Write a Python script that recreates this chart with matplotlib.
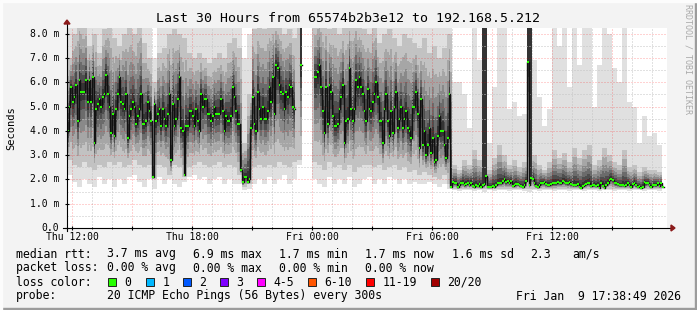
import numpy as np
import matplotlib.pyplot as plt
from matplotlib.patches import Rectangle, Polygon

nan = np.nan
plt.rcParams['font.family'] = 'DejaVu Sans Mono'

title = "Last 30 Hours from 65574b2b3e12 to 192.168.5.212"
start_hour = 11.75          # Thu 11:45, hours since Thu 00:00
step_hours = 5 / 60         # one sample every 300 s

# median rtt per 5-minute sample (ms)
median_ms = [
    4.0, 5.0, 5.8, 5.2, 5.4, 5.9, 4.4, 6.1, 5.6, 5.6,
    5.6, 6.1, 5.2, 6.1, 5.2, 6.2, 3.5, 4.9, 5.1, 5.3,
    5.0, 5.4, 5.5, 6.3, 5.5, 5.0, 3.9, 4.7, 3.8, 4.9,
    5.5, 6.2, 5.2, 5.1, 4.9, 5.5, 3.7, 4.6, 4.9, 5.2,
    5.0, 4.3, 4.6, 4.9, 5.5, 4.3, 4.3, 4.4, 5.2, 4.8,
    4.4, 2.1, 5.1, 4.4, 4.7, 4.9, 4.2, 4.9, 4.5, 4.2,
    4.7, 5.5, 2.8, 5.1, 4.2, 4.5, 5.3, 6.2, 4.1, 4.0,
    2.2, 4.2, 4.2, 4.8, 4.8, 4.6, 4.2, 4.9, 4.4, 4.0,
    5.5, 5.0, 5.3, 5.3, 4.7, 4.7, 4.4, 4.6, 5.0, 4.7,
    4.7, 4.7, 5.3, 4.8, 4.0, 4.6, 4.4, 4.4, 4.6, 5.8,
    5.4, 4.8, 4.3, 4.3, 2.4, 1.9, 2.1, 2.1, 1.9, 2.0,
    4.1, 5.4, 4.3, 4.0, 5.6, 4.9, 4.5, 5.0, 4.5, 4.5,
    4.8, 5.8, 5.2, 6.2, 4.7, 6.7, 6.6, 5.9, 5.6, 5.5,
    4.9, 5.6, 5.4, 5.9, 5.8, 5.0, 4.9, nan, nan, nan,
    6.7, nan, nan, nan, nan, nan, nan, nan, 6.2, 6.2,
    6.4, 6.7, 5.8, 4.8, 3.9, 5.8, 4.3, 5.9, 5.6, 4.6,
    4.2, 4.2, 4.3, 4.9, 5.4, 5.9, 3.5, 4.4, 4.5, 6.6,
    4.9, 4.4, 4.9, 6.1, 5.8, 6.2, 5.8, 5.5, 4.8, 4.4,
    5.7, 4.9, 4.8, 5.2, 5.5, 6.0, 5.4, 4.4, 4.4, 3.5,
    4.9, 5.5, 4.4, 3.8, 4.8, 3.9, 5.0, 5.6, 4.1, 4.5,
    5.0, 4.1, 4.5, 4.8, 4.1, 4.0, 3.7, 5.0, 5.0, 5.6,
    4.7, 3.3, 5.3, 3.4, 4.0, 3.0, 3.4, 4.1, 3.1, 3.7,
    2.7, 2.8, 3.8, 4.6, 4.0, 4.0, 3.4, 2.9, 3.7, 5.5,
    1.70, 1.89, 1.84, 1.86, 1.70, 1.75, 1.86, 1.86, 1.75, 1.80,
    1.87, 1.76, 1.87, 1.73, 1.70, 1.76, 1.73, 1.80, 1.70, 1.76,
    1.80, 2.14, 1.69, 1.67, 1.70, 1.73, 1.70, 1.76, 1.84, 1.87,
    1.87, 1.93, 2.03, 1.89, 1.93, 1.87, 1.93, 1.73, 1.78, 1.80,
    1.82, 1.76, 1.73, 1.70, 1.76, 1.93, 6.85, 1.78, 2.05, 2.03,
    1.84, 1.73, 1.69, 1.76, 1.84, 1.87, 1.89, 1.80, 1.76, 1.76,
    1.80, 1.84, 1.84, 1.84, 1.89, 1.87, 1.84, 1.93, 1.91, 1.85,
    1.84, 1.89, 1.80, 1.76, 1.78, 1.76, 1.80, 1.70, 1.66, 1.73,
    1.76, 1.80, 1.84, 1.87, 1.73, 1.76, 1.78, 1.73, 1.76, 1.66,
    1.87, 1.73, 1.66, 1.76, 1.87, 1.98, 2.03, 1.98, 1.87, 1.84,
    1.80, 1.76, 1.76, 1.78, 1.73, 1.76, 1.84, 1.78, 1.70, 1.80,
    1.87, 1.76, 1.70, 1.73, 1.66, 1.70, 1.89, 1.84, 1.87, 1.76,
    1.70, 1.76, 1.78, 1.76, 1.84, 1.73, 1.84, 1.70, nan, nan,
]

# smoke extents per 15-minute column (ms): lowest ping, highest ping,
# lower / upper edge of the middle pings
smoke_min = [
    2.2, 1.9, 1.7, 2.0, 1.8, 1.7, 2.1, 1.8, 2.0, 1.7, 2.0, 1.8, 2.1, 2.2, 1.9, 1.7, 2.0, 1.6, 2.1, 1.8,
    2.0, 1.8, 1.7, 1.9, 2.1, 2.2, 2.0, 2.1, 1.8, 2.0, 2.1, 1.8, 2.0, 1.8, 1.8, 1.55, 1.6, 1.8, 2.0, 1.8,
    2.1, 1.8, 2.0, 2.2, 1.8, 2.0, 2.6, nan, nan, 2.0, 1.8, 1.7, 2.1, 1.8, 2.0, 1.8, 2.1, 1.7, 1.8, 2.0,
    2.1, 1.8, 2.0, 1.8, 2.1, 2.0, 1.8, 2.0, 1.8, 1.9, 1.8, 1.8, 1.9, 1.8, 1.7, 1.8, 1.6, 1.55, 1.52, 1.55,
    1.55, 1.52, 1.55, 1.5, 1.55, 1.52, 1.55, 1.55, 1.52, 1.55, 1.55, 1.52, 1.5, 1.55, 1.52, 1.55, 1.55, 1.52, 1.55, 1.55,
    1.52, 1.55, 1.55, 1.52, 1.55, 1.55, 1.52, 1.55, 1.55, 1.52, 1.55, 1.55, 1.52, 1.55, 1.55, 1.52, 1.55, 1.55, 1.52, nan,
]
smoke_max = [
    9.5, 10.5, 12.0, 11.5, 10.0, 11.0, 9.8, 11.0, 11.5, 10.5, 10.0, 11.0, 11.0, 10.5, 11.5, 10.0, 9.5, 7.0, 9.5, 10.0,
    11.0, 10.5, 10.5, 10.5, 9.5, 9.5, 9.5, 9.5, 9.0, 9.2, 9.5, 9.5, 10.5, 10.0, 10.0, 7.0, 8.0, 11.0, 11.0, 11.0,
    11.5, 11.5, 11.0, 11.0, 11.0, 10.0, 40.0, nan, nan, 10.5, 11.5, 11.5, 11.0, 11.5, 11.0, 10.5, 11.0, 11.5, 11.0, 11.0,
    10.5, 11.0, 10.0, 10.5, 11.0, 10.5, 10.0, 11.0, 10.5, 10.0, 10.5, 11.0, 10.0, 10.5, 10.0, 10.5, 11.0, 6.0, 6.0, 5.5,
    4.1, 9.0, 6.9, 60.0, 3.5, 5.8, 9.0, 9.0, 4.9, 5.2, 4.6, 4.7, 60.0, 6.9, 5.4, 4.2, 4.9, 9.0, 7.5, 9.0,
    5.8, 9.0, 6.7, 9.0, 9.0, 5.0, 6.7, 9.0, 8.0, 6.6, 6.0, 9.0, 5.2, 5.0, 3.5, 4.6, 3.8, 3.9, 3.4, nan,
]
smoke_q10 = [
    2.8, 2.6, 2.5, 2.7, 2.5, 2.4, 2.6, 2.5, 2.7, 2.6, 2.7, 2.5, 2.6, 2.8, 2.6, 2.5, 2.6, 2.0, 2.6, 2.5,
    2.2, 2.6, 2.5, 2.1, 2.5, 2.6, 2.7, 2.6, 2.5, 2.6, 2.7, 2.5, 2.6, 2.5, 2.2, 1.7, 1.8, 2.5, 2.6, 2.5,
    2.6, 2.5, 2.7, 2.6, 2.5, 2.7, 2.8, nan, nan, 2.7, 2.6, 2.4, 2.7, 2.5, 2.6, 2.4, 2.6, 2.3, 2.5, 2.6,
    2.6, 2.5, 2.6, 2.4, 2.5, 2.6, 2.4, 2.5, 2.3, 2.4, 2.2, 2.3, 2.2, 2.1, 2.0, 2.2, 1.8, 1.62, 1.6, 1.62,
    1.62, 1.6, 1.62, 1.6, 1.62, 1.6, 1.62, 1.62, 1.6, 1.62, 1.62, 1.6, 1.6, 1.62, 1.6, 1.62, 1.62, 1.6, 1.62, 1.62,
    1.6, 1.62, 1.62, 1.6, 1.62, 1.62, 1.6, 1.62, 1.62, 1.6, 1.62, 1.62, 1.6, 1.62, 1.62, 1.6, 1.62, 1.62, 1.6, nan,
]
smoke_q90 = [
    7.0, 8.0, 8.8, 8.5, 7.5, 8.0, 7.2, 8.2, 8.6, 7.8, 7.5, 8.0, 8.4, 8.0, 8.6, 7.6, 7.0, 6.0, 7.2, 7.4,
    8.0, 8.2, 8.0, 7.8, 7.2, 7.0, 7.2, 7.0, 6.8, 7.0, 7.2, 7.0, 7.6, 7.8, 7.4, 3.5, 5.5, 8.2, 8.4, 8.2,
    8.5, 8.6, 8.4, 8.0, 8.2, 7.8, 40.0, nan, nan, 8.5, 8.8, 8.6, 8.2, 8.5, 8.0, 8.3, 8.6, 8.8, 8.4, 8.2,
    8.0, 8.4, 7.6, 8.0, 8.2, 7.8, 7.5, 8.0, 7.8, 7.6, 7.4, 7.8, 7.2, 7.5, 7.0, 7.4, 8.0, 2.6, 2.4, 2.8,
    2.6, 3.2, 2.8, 60.0, 2.4, 2.9, 3.4, 3.0, 2.6, 2.8, 2.5, 2.7, 60.0, 3.0, 2.6, 2.4, 2.7, 3.2, 2.9, 3.1,
    2.7, 3.3, 2.9, 3.2, 3.4, 2.6, 2.8, 3.3, 3.0, 2.7, 2.6, 3.2, 2.5, 2.6, 2.3, 2.5, 2.4, 2.4, 2.3, nan,
]

tick_hours = [12, 18, 24, 30, 36]
tick_labels = ["Thu 12:00", "Thu 18:00", "Fri 00:00", "Fri 06:00", "Fri 12:00"]
ytick_vals = [0, 1, 2, 3, 4, 5, 6, 7, 8]
ytick_labels = ["0.0", "1.0 m", "2.0 m", "3.0 m", "4.0 m", "5.0 m", "6.0 m", "7.0 m", "8.0 m"]

rtt_legend = ["median rtt:", "3.7 ms avg", "6.9 ms max", "1.7 ms min", "1.7 ms now",
              "1.6 ms sd", "2.3", "am/s"]
loss_legend = ["packet loss:", "0.00 % avg", "0.00 % max", "0.00 % min", "0.00 % now"]
loss_labels = ["0", "1", "2", "3", "4-5", "6-10", "11-19", "20/20"]
loss_colors = ["#26ff00", "#00b8ff", "#0059ff", "#7e00ff", "#ff00ff", "#ff5500", "#ff0000", "#a10000"]
probe_text = "20 ICMP Echo Pings (56 Bytes) every 300s"
stamp_text = "Fri Jan  9 17:38:49 2026"

# ---------------------------------------------------------------
W, H = 697, 310
PX_H = 1 / 20.0     # hours per pixel
PX_Y = 1 / 24.3     # ms per pixel
ymax = 200 * PX_Y
xmin, xmax = start_hour, start_hour + 600 * PX_H

fig = plt.figure(figsize=(W / 100, H / 100), dpi=100)
fig.patch.set_facecolor('#f3f3f3')
ax = fig.add_axes([67 / W, 82 / H, 600 / W, 200 / H])
ax.set_facecolor('white')
ax.set_xlim(xmin, xmax)
ax.set_ylim(0, ymax)
for s in ax.spines.values():
    s.set_visible(False)
ax.set_xticks([])
ax.set_yticks([])

med = np.array(median_ms, dtype=float)
n = len(med)
edges = start_hour + np.arange(n + 1) * step_hours
col = np.arange(n) // 3
lo = np.array(smoke_min)[col]
hi = np.array(smoke_max)[col]
q10 = np.array(smoke_q10)[col]
q90 = np.array(smoke_q90)[col]

xs = np.repeat(edges, 2)[1:-1]


def rep(a):
    return np.repeat(a, 2)


# smoke: outer pings light, pings near the median dark
layers = [(lo, hi, '#e0e0e0'), (q10, q90, '#c2c2c2')]
for f, c in [(0.75, '#a6a6a6'), (0.55, '#898989'), (0.38, '#6b6b6b'),
             (0.24, '#4e4e4e'), (0.12, '#343434')]:
    low = med - f * np.clip(med - q10, 0, None)
    up = med + f * np.clip(q90 - med, 0, None)
    layers.append((low, up, c))
for a, b, c in layers:
    ax.fill_between(xs, rep(a), rep(b), color=c, linewidth=0, zorder=1)

# grid
hours = np.arange(12, 42)
minor_h = [h for h in hours if h % 3 != 0]
major_h = [h for h in hours if h % 3 == 0]
dots = (0, (1, 2))
ax.vlines(minor_h, 0, ymax, colors='#c4c4c4', linestyles=dots, lw=0.72, zorder=2)
ax.hlines(np.arange(0.5, 8.1, 1.0), xmin, xmax, colors='#c4c4c4', linestyles=dots, lw=0.72, zorder=2)
ax.vlines(major_h, 0, ymax, colors='#ff0000', alpha=0.35, linestyles=dots, lw=0.72, zorder=2)
ax.hlines(ytick_vals[1:], xmin, xmax, colors='#ff0000', alpha=0.35, linestyles=dots, lw=0.72, zorder=2)

# median: dark connecting line + green loss-colour marks
ax.plot(xs, rep(med), color='#111111', lw=1.0, zorder=3)
ax.hlines(med, edges[:-1], edges[1:], colors=loss_colors[0], lw=1.5, zorder=4)

# axes lines, ticks and arrows
ax.plot([xmin, xmin], [-3 * PX_Y, ymax + 5 * PX_Y], color='black', lw=0.8, clip_on=False, zorder=5)
ax.plot([xmin - 4 * PX_H, xmax + 4 * PX_H], [0, 0], color='black', lw=0.8, clip_on=False, zorder=5)
ax.add_patch(Polygon([[xmin - 3 * PX_H, ymax + 4 * PX_Y], [xmin + 3 * PX_H, ymax + 4 * PX_Y],
                      [xmin, ymax + 8 * PX_Y]], closed=True, color='#8b1a1a', clip_on=False, zorder=6))
ax.add_patch(Polygon([[xmax + 4 * PX_H, 3 * PX_Y], [xmax + 4 * PX_H, -3 * PX_Y],
                      [xmax + 8 * PX_H, 0]], closed=True, color='#8b1a1a', clip_on=False, zorder=6))
ax.vlines(major_h, -2 * PX_Y, 2 * PX_Y, colors='black', lw=0.8, clip_on=False, zorder=5)
ax.vlines(minor_h, -1 * PX_Y, 1 * PX_Y, colors='black', lw=0.6, clip_on=False, zorder=5)
ax.hlines(ytick_vals, xmin - 2 * PX_H, xmin + 2 * PX_H, colors='black', lw=0.8, clip_on=False, zorder=5)

for v, lab in zip(ytick_vals, ytick_labels):
    ax.text(xmin - 8 * PX_H, v, lab, ha='right', va='center', fontsize=7, clip_on=False)
for h, lab in zip(tick_hours, tick_labels):
    ax.text(h, -9 * PX_Y, lab, ha='center', va='center', fontsize=7, clip_on=False)


def ftext(x, y, s, **kw):
    fig.text(x / W, 1 - y / H, s, va='center', **kw)


ftext(348, 18, title, ha='center', fontsize=9.5)
ftext(11, 128, "Seconds", ha='center', rotation=90, fontsize=7.5)
fig.text(688 / W, 1 - 4 / H, "RRDTOOL / TOBI OETIKER", rotation=270, ha='center', va='top',
         fontsize=6, color='#a9a9a9')

leg_fs = 8.3
for x, s in zip([16, 107, 193, 279, 365, 451.5, 530, 572], rtt_legend):
    ftext(x, 254, s, ha='left', fontsize=leg_fs)
for x, s in zip([16, 107, 193, 279, 365], loss_legend):
    ftext(x, 268, s, ha='left', fontsize=leg_fs)
ftext(16, 282, "loss color:", ha='left', fontsize=leg_fs)
for x, lab, c in zip([108, 146, 183, 220, 257, 308, 366, 431], loss_labels, loss_colors):
    fig.patches.append(Rectangle((x / W, 1 - 286 / H), 8 / W, 8 / H, transform=fig.transFigure,
                                 facecolor=c, edgecolor='#222222', lw=0.7))
    ftext(x + 16.5, 282, lab, ha='left', fontsize=leg_fs)
ftext(16, 296, "probe:", ha='left', fontsize=leg_fs)
ftext(107, 296, probe_text, ha='left', fontsize=leg_fs)
ftext(681, 296, stamp_text, ha='right', fontsize=leg_fs)

# frame around the canvas
fig.patches.append(Rectangle((0, 0), 1, 2 / H, transform=fig.transFigure, color='#9c9c9c'))
fig.patches.append(Rectangle((1 - 2 / W, 0), 2 / W, 1, transform=fig.transFigure, color='#9c9c9c'))
fig.patches.append(Rectangle((0, 1 - 2 / H), 1, 2 / H, transform=fig.transFigure, color='#fcfcfc'))
fig.patches.append(Rectangle((0, 0), 2 / W, 1, transform=fig.transFigure, color='#fcfcfc'))

fig.savefig('out.png', dpi=100, facecolor=fig.get_facecolor())
